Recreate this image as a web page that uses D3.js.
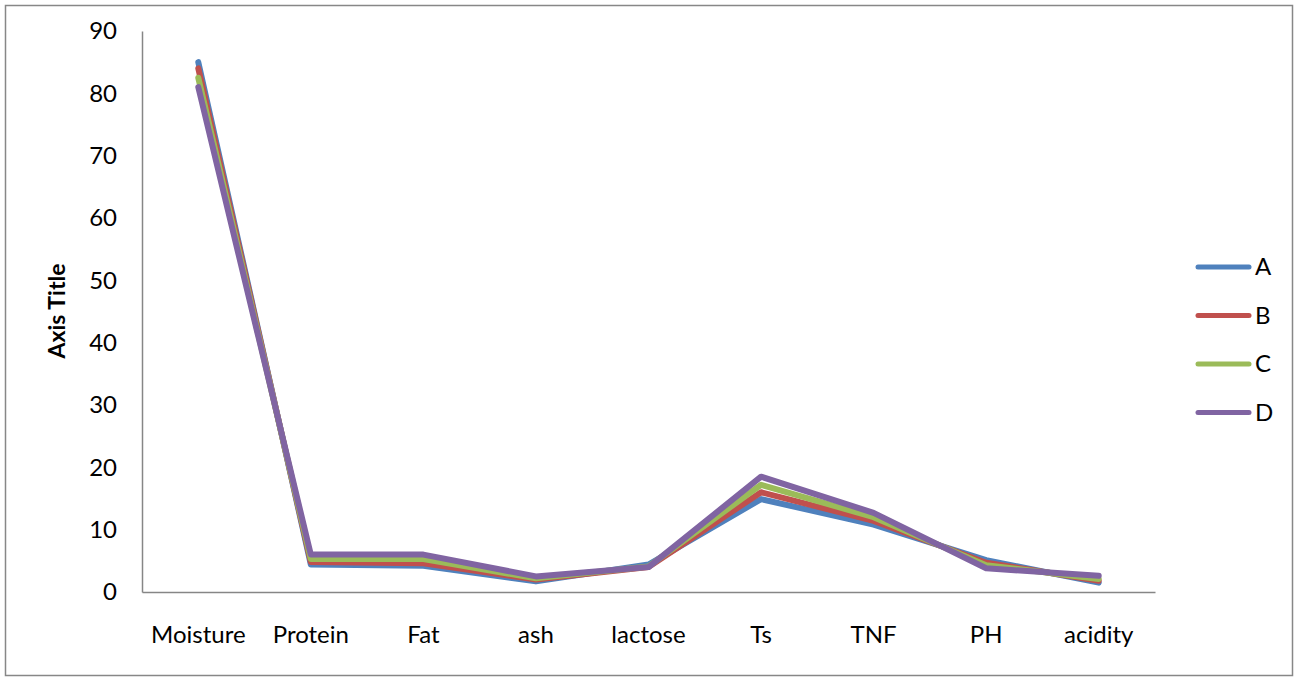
<!DOCTYPE html>
<html>
<head>
<meta charset="utf-8">
<script src="https://cdn.jsdelivr.net/npm/d3@7"></script>
<style>
  body { margin: 0; background: #fff; }
  svg text { font-family: Lato, "Open Sans", sans-serif; fill: #000; }
</style>
</head>
<body>
<svg id="chart" width="1298" height="681"></svg>
<script>
const categories = ["Moisture", "Protein", "Fat", "ash", "lactose", "Ts", "TNF", "PH", "acidity"];
const seriesNames = ["A", "B", "C", "D"];
const seriesA = [85.0, 4.4, 4.2, 1.7, 4.4, 14.9, 10.8, 5.1, 1.5];
const seriesB = [84.0, 4.8, 4.6, 2.0, 4.0, 16.0, 11.4, 4.7, 1.8];
const seriesC = [82.5, 5.3, 5.3, 2.2, 4.1, 17.2, 12.0, 4.3, 2.1];
const seriesD = [81.0, 6.0, 6.0, 2.5, 4.0, 18.5, 12.7, 3.8, 2.6];
const yTicks = [0, 10, 20, 30, 40, 50, 60, 70, 80, 90];
const colors = ["#4F81BD", "#C0504D", "#9BBB59", "#8064A2"];

const allSeries = [seriesA, seriesB, seriesC, seriesD];
const svg = d3.select("#chart");

// outer chart border
svg.append("rect")
  .attr("x", 5.5).attr("y", 5.5)
  .attr("width", 1287).attr("height", 670)
  .attr("fill", "#fff").attr("stroke", "#878787").attr("stroke-width", 1.5);

const plotLeft = 142, plotRight = 1155, plotTop = 31, plotBottom = 592;

const x = d3.scaleBand().domain(categories).range([plotLeft, plotRight]);
const y = d3.scaleLinear().domain([0, 90]).range([plotBottom, plotTop]);

// y axis
const yAxis = svg.append("g")
  .attr("transform", `translate(${plotLeft},0)`)
  .call(d3.axisLeft(y).tickValues(yTicks).tickSize(0).tickPadding(25));
yAxis.select(".domain").attr("stroke", "#868686").attr("stroke-width", 1.5);
yAxis.selectAll("text").style("font-size", "24px");

// x axis
const xAxis = svg.append("g")
  .attr("transform", `translate(0,${plotBottom})`)
  .call(d3.axisBottom(x).tickSize(0).tickPadding(34));
xAxis.select(".domain").attr("stroke", "#868686").attr("stroke-width", 1.5);
xAxis.selectAll("text").style("font-size", "24px");

// axis title
svg.append("text")
  .attr("transform", "translate(65,311) rotate(-90)")
  .attr("text-anchor", "middle")
  .style("font-size", "23px")
  .style("font-weight", "bold")
  .text("Axis Title");

const line = d3.line()
  .x((d, i) => x(categories[i]) + x.bandwidth() / 2)
  .y(d => y(d));

allSeries.forEach((s, i) => {
  svg.append("path")
    .datum(s)
    .attr("d", line)
    .attr("fill", "none")
    .attr("stroke", colors[i])
    .attr("stroke-width", 6)
    .attr("stroke-linejoin", "round")
    .attr("stroke-linecap", "round");
});

// legend
const legend = svg.append("g");
seriesNames.forEach((name, i) => {
  const ly = 267 + i * 48.5;
  legend.append("line")
    .attr("x1", 1198).attr("x2", 1249)
    .attr("y1", ly).attr("y2", ly)
    .attr("stroke", colors[i])
    .attr("stroke-width", 5)
    .attr("stroke-linecap", "round");
  legend.append("text")
    .attr("x", 1255).attr("y", ly)
    .attr("dy", "0.35em")
    .style("font-size", "24px")
    .text(name);
});
</script>
</body>
</html>
